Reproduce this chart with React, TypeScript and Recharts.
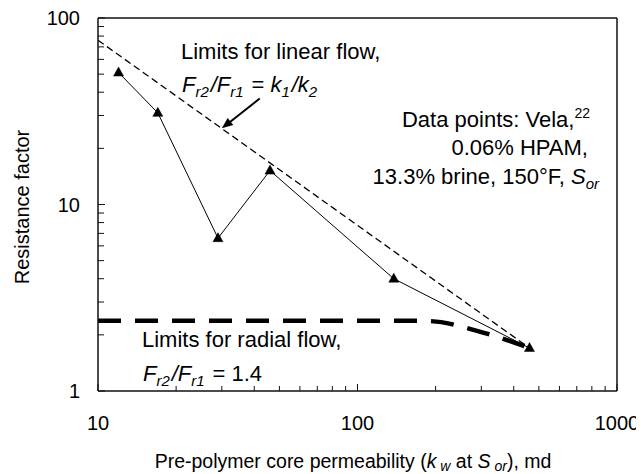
import React from 'react';
import { ComposedChart, Line, XAxis, YAxis, ReferenceLine, Customized } from 'recharts';

// Axis ticks (log-log, one tick per integer multiple in each decade)
const xTicks = [10, 20, 30, 40, 50, 60, 70, 80, 90, 100, 200, 300, 400, 500, 600, 700, 800, 900, 1000];
const yTicks = [1, 2, 3, 4, 5, 6, 7, 8, 9, 10, 20, 30, 40, 50, 60, 70, 80, 90, 100];
const labelledTicks = [1, 10, 100, 1000];

// Vela data points: core permeability (md) vs resistance factor
const velaPerm = [12, 17, 29, 46, 138, 460];
const velaFactor = [51, 31, 6.6, 15.2, 4.0, 1.7];

// Limit for linear flow: Fr2/Fr1 = k1/k2
const linearPerm = [10, 460];
const linearFactor = [76, 1.7];

// Limit for radial flow: Fr2/Fr1 = 1.4
const radialPerm = [10, 100, 175, 210, 250, 315, 410, 460];
const radialFactor = [2.38, 2.38, 2.38, 2.34, 2.22, 2.03, 1.8, 1.7];

// Arrow pointing at the linear-flow limit
const arrowPerm = [42, 30];
const arrowFactor = [37, 25.6];

const toPoints = (xs: number[], ys: number[]) => xs.map((x, i) => ({ x, y: ys[i] }));

const velaData = toPoints(velaPerm, velaFactor);
const linearData = toPoints(linearPerm, linearFactor);
const radialData = toPoints(radialPerm, radialFactor);
const arrowSegment = toPoints(arrowPerm, arrowFactor);

const FONT = '"Liberation Sans", Arial, Helvetica, sans-serif';
const INK = '#111';

function XTick(props: any) {
  const { x, y, payload } = props;
  const v = payload.value;
  const major = labelledTicks.includes(v);
  return (
    <g>
      <line x1={x} x2={x} y1={y} y2={y - (major ? 7 : 5)} stroke={INK} strokeWidth={1} />
      {major && (
        <text x={x} y={y + 39} textAnchor="middle" fontSize={20} fontFamily={FONT} fill="#000">
          {v}
        </text>
      )}
    </g>
  );
}

function YTick(props: any) {
  const { x, y, payload } = props;
  const v = payload.value;
  const major = labelledTicks.includes(v);
  return (
    <g>
      <line x1={x} x2={x + (major ? 7 : 6)} y1={y} y2={y} stroke={INK} strokeWidth={1} />
      {major && (
        <text x={x - 18} y={y} dy="0.36em" textAnchor="end" fontSize={20} fontFamily={FONT} fill="#000">
          {v}
        </text>
      )}
    </g>
  );
}

function Triangle(props: any) {
  const { cx, cy, index } = props;
  if (cx == null || cy == null) return <g key={`t-${index}`} />;
  const pts = `${cx},${cy - 5.5} ${cx + 5},${cy + 3.5} ${cx - 5},${cy + 3.5}`;
  return <polygon key={`t-${index}`} points={pts} fill="#000" stroke="#000" strokeWidth={0.5} />;
}

function Arrow(props: any) {
  const { x1, y1, x2, y2 } = props;
  const dx = x2 - x1;
  const dy = y2 - y1;
  const len = Math.sqrt(dx * dx + dy * dy) || 1;
  const ux = dx / len;
  const uy = dy / len;
  const head = 11;
  const half = 4.5;
  const bx = x2 - ux * head;
  const by = y2 - uy * head;
  const pts = `${x2},${y2} ${bx - uy * half},${by + ux * half} ${bx + uy * half},${by - ux * half}`;
  return (
    <g>
      <line x1={x1} y1={y1} x2={bx + ux * 1} y2={by + uy * 1} stroke="#000" strokeWidth={2} />
      <polygon points={pts} fill="#000" />
    </g>
  );
}

const sub = (s: string, size = 15, italic = true) => (
  <>
    <tspan fontSize={size} dy={5} fontStyle={italic ? 'italic' : 'normal'}>{s}</tspan>
    <tspan dy={-5} fontSize={22}>{'\u200A'}</tspan>
  </>
);

function Annotations() {
  return (
    <g fontFamily={FONT} fill="#000">
      <text x={173} y={51} fontSize={22}>Limits for linear flow,</text>
      <text x={174} y={84} fontSize={22}>
        <tspan fontStyle="italic">F</tspan>
        {sub('r2')}
        <tspan fontStyle="italic">/F</tspan>
        {sub('r1')}
        <tspan> = </tspan>
        <tspan fontStyle="italic">k</tspan>
        {sub('1')}
        <tspan fontStyle="italic">/k</tspan>
        <tspan fontSize={15} dy={5} fontStyle="italic">2</tspan>
      </text>

      <text x={582} y={119} fontSize={22} textAnchor="end">
        Data points: Vela,<tspan fontSize={14} dy={-9}>22</tspan>
      </text>
      <text x={580} y={147} fontSize={22} textAnchor="end">0.06% HPAM,</text>
      <text x={591} y={176} fontSize={22} textAnchor="end">
        13.3% brine, 150°F, <tspan fontStyle="italic">S</tspan>
        <tspan fontSize={15} dy={5} fontStyle="italic">or</tspan>
      </text>

      <text x={134} y={339} fontSize={22}>Limits for radial flow,</text>
      <text x={135} y={373} fontSize={22}>
        <tspan fontStyle="italic">F</tspan>
        {sub('r2')}
        <tspan fontStyle="italic">/F</tspan>
        {sub('r1')}
        <tspan> = 1.4</tspan>
      </text>

      <text
        x={14}
        y={199}
        fontSize={20}
        textAnchor="middle"
        dy="0.36em"
        transform="rotate(-90 14 199)"
      >
        Resistance factor
      </text>

      <text x={345} y={460} fontSize={19.5} textAnchor="middle">
        Pre-polymer core permeability (
        <tspan fontStyle="italic">k</tspan>
        <tspan fontSize={14} dy={3} fontStyle="italic">{' w'}</tspan>
        <tspan dy={-3}> at </tspan>
        <tspan fontStyle="italic">S</tspan>
        <tspan fontSize={14} dy={3} fontStyle="italic">{' or'}</tspan>
        <tspan dy={-3}>), md</tspan>
      </text>
    </g>
  );
}

export default function App() {
  return (
    <div style={{ width: 636, height: 466, background: '#fff' }}>
      <ComposedChart width={636} height={466} margin={{ top: 10, right: 27, bottom: 0, left: 0 }}>
        <XAxis
          type="number"
          dataKey="x"
          scale="log"
          domain={[10, 1000]}
          ticks={xTicks}
          interval={0}
          tickSize={0}
          tickMargin={0}
          tick={<XTick />}
          height={83}
          stroke={INK}
          strokeWidth={1.5}
          allowDataOverflow
        />
        <YAxis
          type="number"
          scale="log"
          domain={[1, 100]}
          ticks={yTicks}
          interval={0}
          tickSize={0}
          tickMargin={0}
          tick={<YTick />}
          width={90}
          stroke={INK}
          strokeWidth={1.5}
          allowDataOverflow
        />
        <ReferenceLine y={100} stroke={INK} strokeWidth={1.5} ifOverflow="visible" />
        <ReferenceLine x={1000} stroke={INK} strokeWidth={1.5} ifOverflow="visible" />

        <Line
          data={linearData}
          dataKey="y"
          type="linear"
          stroke="#000"
          strokeWidth={1.3}
          strokeDasharray="7 4"
          dot={false}
          activeDot={false}
          isAnimationActive={false}
        />
        <Line
          data={radialData}
          dataKey="y"
          type="monotone"
          stroke="#000"
          strokeWidth={4.5}
          strokeDasharray="23 14"
          dot={false}
          activeDot={false}
          isAnimationActive={false}
        />
        <Line
          data={velaData}
          dataKey="y"
          type="linear"
          stroke="#000"
          strokeWidth={1}
          dot={Triangle}
          activeDot={false}
          isAnimationActive={false}
        />
        <ReferenceLine segment={arrowSegment} shape={Arrow} ifOverflow="visible" />
        <Customized component={Annotations} />
      </ComposedChart>
    </div>
  );
}
